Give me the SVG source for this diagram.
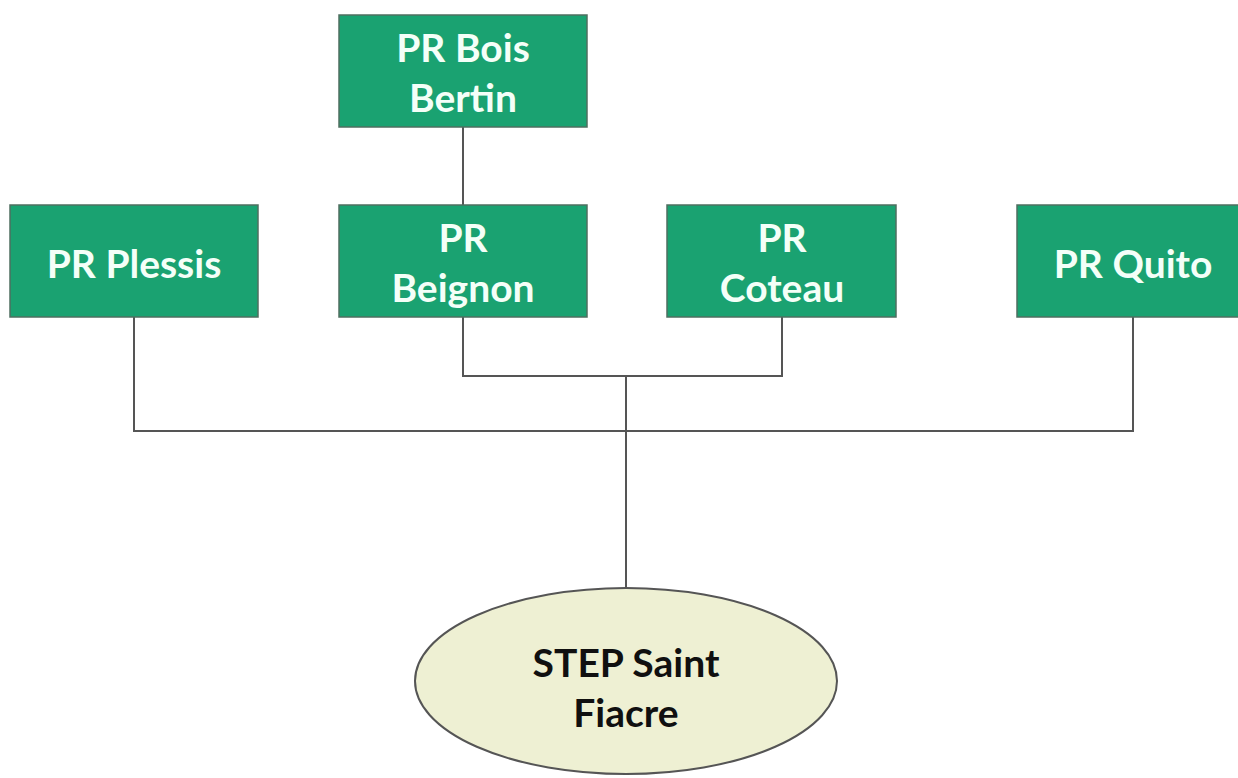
<svg xmlns="http://www.w3.org/2000/svg" width="1238" height="778" viewBox="0 0 1238 778">
<style>
.box{fill:#1aa271;stroke:#4f6f60;stroke-width:1.5}
.t{font-family:Lato,"Open Sans",sans-serif;font-weight:bold;font-size:39px;fill:#f4fff8;text-anchor:middle}
.d{fill:#101010}
.c{fill:none;stroke:#555;stroke-width:2}
</style>
<rect width="1238" height="778" fill="#fff"/>
<g id="connectors">
<path class="c" d="M463 127V205"/>
<path class="c" d="M463 317V376H782V317"/>
<path class="c" d="M134 317V431H1133V317"/>
<path class="c" d="M626 376V588"/>
</g>
<g id="bois-bertin"><rect class="box" x="339" y="15" width="248" height="112"/><text class="t" x="463" y="62">PR Bois</text><text class="t" x="463" y="112">Bertin</text></g>
<g id="plessis"><rect class="box" x="10" y="205" width="248" height="112"/><text class="t" x="134" y="278">PR Plessis</text></g>
<g id="beignon"><rect class="box" x="339" y="205" width="248" height="112"/><text class="t" x="463" y="252">PR</text><text class="t" x="463" y="302">Beignon</text></g>
<g id="coteau"><rect class="box" x="667" y="205" width="229" height="112"/><text class="t" x="782" y="252">PR</text><text class="t" x="782" y="302">Coteau</text></g>
<g id="quito"><rect class="box" x="1017" y="205" width="232" height="112"/><text class="t" x="1133" y="278">PR Quito</text></g>
<g id="step"><ellipse cx="626" cy="681" rx="211" ry="93" fill="#eef0d3" stroke="#555" stroke-width="2"/><text class="t d" x="626" y="677">STEP Saint</text><text class="t d" x="626" y="727">Fiacre</text></g>
</svg>
